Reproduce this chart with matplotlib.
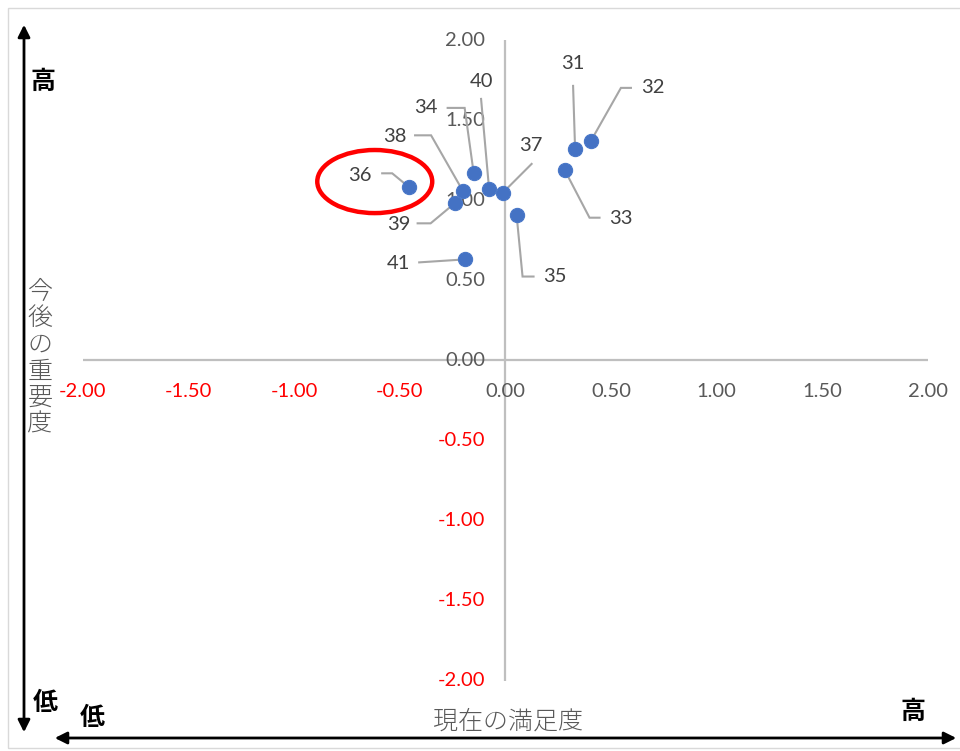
import matplotlib
matplotlib.use("Agg")
import matplotlib.pyplot as plt
import numpy as np
from matplotlib.patches import Ellipse, Rectangle, FancyArrowPatch
from matplotlib.transforms import offset_copy

# Items: current satisfaction (x) vs. future importance (y)
item_ids = ["31", "32", "33", "34", "35", "36", "37", "38", "39", "40", "41"]
satisfaction = [0.33, 0.405, 0.28, -0.15, 0.053, -0.455, -0.013, -0.20, -0.24, -0.077, -0.19]
importance = [1.32, 1.37, 1.19, 1.17, 0.91, 1.08, 1.045, 1.055, 0.98, 1.07, 0.63]

tick_values = [-2.0, -1.5, -1.0, -0.5, 0.0, 0.5, 1.0, 1.5, 2.0]
tick_labels = ["-2.00", "-1.50", "-1.00", "-0.50", "0.00", "0.50", "1.00", "1.50", "2.00"]

# Label placement (pixel offsets from each marker, y pointing down):
# text centre, then leader-line vertices running towards the marker
label_layout = {
    "31": ((-2, -85), [(-2, -63)]),
    "32": ((62, -53), [(40, -53), (30, -53)]),
    "33": ((56, 49), [(35, 48), (25, 48)]),
    "34": ((-48, -65), [(-26, -65), (-9, -65)]),
    "35": ((38, 62), [(17, 62), (6, 62)]),
    "36": ((-49, -12), [(-27, -14), (-17, -14)]),
    "37": ((28, -47), [(29, -29)]),
    "38": ((-68, -55), [(-48, -56), (-32, -56)]),
    "39": ((-56, 21), [(-37, 20), (-24, 20)]),
    "40": ((-8, -107), [(-8, -90)]),
    "41": ((-67, 4), [(-46, 3)]),
}

W, H, DPI = 960, 751, 100
fig = plt.figure(figsize=(W / DPI, H / DPI), dpi=DPI)
fig.patch.set_facecolor("white")

num_font = "Lato"
cjk_font = ["Noto Sans CJK JP", "DejaVu Sans"]
grey_txt = "#595959"
red_txt = "#ff0000"
axis_grey = "#bfbfbf"
leader_grey = "#a6a6a6"
num_size = 14.5

ax = fig.add_axes([82.7 / W, 1 - 680.5 / H, (928 - 82.7) / W, (680.5 - 40) / H])
ax.set_xlim(-2, 2)
ax.set_ylim(-2, 2)
ax.axis("off")

ax.plot([-2, 2], [0, 0], color=axis_grey, lw=1.6, zorder=1)
ax.plot([0, 0], [-2, 2], color=axis_grey, lw=1.6, zorder=1)

# tick labels next to the crossing axes
for v, t in zip(tick_values, tick_labels):
    col = red_txt if v < 0 else grey_txt
    tr = offset_copy(ax.transData, fig=fig, x=0, y=-31, units="dots")
    ax.text(v, 0, t, transform=tr, ha="center", va="center", fontsize=num_size,
            color=col, family=num_font, zorder=2)
    tr = offset_copy(ax.transData, fig=fig, x=-20, y=0, units="dots")
    ax.text(0, v, t, transform=tr, ha="right", va="center", fontsize=num_size,
            color=col, family=num_font, zorder=2)

fig.canvas.draw()

# leader lines and data labels
inv = ax.transData.inverted()
for name, xv, yv in zip(item_ids, satisfaction, importance):
    (tx, ty), verts = label_layout[name]
    base = ax.transData.transform((xv, yv))
    pts = [base + np.array([dx, -dy]) for dx, dy in verts] + [base]
    dpts = inv.transform(np.array(pts))
    ax.plot(dpts[:, 0], dpts[:, 1], color=leader_grey, lw=1.5, zorder=3,
            solid_joinstyle="miter")
    tr = offset_copy(ax.transData, fig=fig, x=tx, y=-ty, units="dots")
    ax.text(xv, yv, name, transform=tr, ha="center", va="center", fontsize=num_size,
            color="#404040", family=num_font, zorder=4)

ax.scatter(satisfaction, importance, s=105, color="#4472C4",
           edgecolors="#4a78c8", linewidths=0.8, zorder=5)

# highlight around item 36
ax.add_patch(Ellipse((-0.618, 1.116), 0.544, 0.394, fill=False,
                     edgecolor="#ff0000", lw=3.2, zorder=6, clip_on=False))

# figure-level decorations (pixel coordinates)
def fx(px):
    return px / W

def fy(py):
    return 1 - py / H

fig.add_artist(Rectangle((fx(8), fy(748)), fx(960), fy(8) - fy(748),
                         transform=fig.transFigure, fill=False,
                         edgecolor="#d9d9d9", lw=1.0))

fig.add_artist(FancyArrowPatch((fx(24), fy(22)), (fx(24), fy(735)),
                               transform=fig.transFigure, arrowstyle="<|-|>",
                               mutation_scale=18, color="black", lw=2.0))
fig.add_artist(FancyArrowPatch((fx(52), fy(738)), (fx(959), fy(738)),
                               transform=fig.transFigure, arrowstyle="<|-|>",
                               mutation_scale=18, color="black", lw=2.0))

fig.text(fx(43), fy(82), "高", ha="center", va="center", fontsize=18,
         fontweight="bold", family=cjk_font, color="black")
fig.text(fx(45), fy(703), "低", ha="center", va="center", fontsize=18,
         fontweight="bold", family=cjk_font, color="black")
fig.text(fx(92), fy(718), "低", ha="center", va="center", fontsize=18,
         fontweight="bold", family=cjk_font, color="black")
fig.text(fx(913), fy(712), "高", ha="center", va="center", fontsize=18,
         fontweight="bold", family=cjk_font, color="black")

fig.text(fx(508), fy(721), "現在の満足度", ha="center", va="center",
         fontsize=18, fontweight="light", family=cjk_font, color=grey_txt)
fig.text(fx(40), fy(358), "\n".join("今後の重要度"), ha="center", va="center",
         fontsize=18, fontweight="light", family=cjk_font, color=grey_txt,
         linespacing=1.0)

fig.savefig("out.png", dpi=DPI, facecolor="white")
